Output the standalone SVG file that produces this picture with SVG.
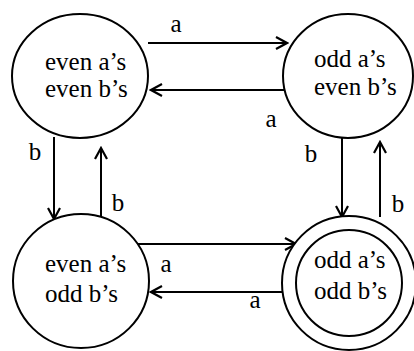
<svg xmlns="http://www.w3.org/2000/svg" width="414" height="351" viewBox="0 0 414 351">
  <style>
    .state { fill: #fff; stroke: #000; stroke-width: 2; }
    .name { font-family: 'Liberation Serif', 'Times New Roman', serif; font-size: 25px; fill: #000; }
    .edge { fill: none; stroke: #000; stroke-width: 2; }
    .lbl { font-family: 'Liberation Serif', 'Times New Roman', serif; font-size: 25px; fill: #000; text-anchor: middle; }
  </style>
  <defs>
    <marker id="arrow" markerUnits="userSpaceOnUse" markerWidth="16" markerHeight="16" viewBox="-14 -8 16 16" refX="0" refY="0" orient="auto">
      <path d="M-11,-6 L0,0 L-11,6" fill="none" stroke="#000" stroke-width="2.2"/>
    </marker>
  </defs>

  <!-- transitions and their input symbols -->
  <g id="connectors">
    <line class="edge" x1="148" y1="43" x2="287" y2="43" marker-end="url(#arrow)"/>
    <line class="edge" x1="284" y1="90" x2="151" y2="90" marker-end="url(#arrow)"/>
    <line class="edge" x1="54" y1="137" x2="54" y2="219" marker-end="url(#arrow)"/>
    <line class="edge" x1="101" y1="227" x2="101" y2="148" marker-end="url(#arrow)"/>
    <line class="edge" x1="342" y1="138" x2="342" y2="217" marker-end="url(#arrow)"/>
    <line class="edge" x1="380" y1="217" x2="380" y2="142" marker-end="url(#arrow)"/>
    <line class="edge" x1="138" y1="244" x2="296" y2="244" marker-end="url(#arrow)"/>
    <line class="edge" x1="282" y1="292" x2="151" y2="292" marker-end="url(#arrow)"/>
    <text class="lbl" x="176" y="32">a</text>
    <text class="lbl" x="271" y="127">a</text>
    <text class="lbl" x="35" y="160">b</text>
    <text class="lbl" x="311" y="162">b</text>
    <text class="lbl" x="118" y="211">b</text>
    <text class="lbl" x="398" y="212">b</text>
    <text class="lbl" x="166" y="272">a</text>
    <text class="lbl" x="255" y="308">a</text>
  </g>

  <!-- states -->
  <g id="even-even">
    <ellipse class="state" cx="80" cy="76" rx="68" ry="62"/>
    <text class="name" x="45" y="70">even a’s</text>
    <text class="name" x="45" y="97">even b’s</text>
  </g>
  <g id="odd-even">
    <ellipse class="state" cx="348" cy="76" rx="65" ry="62"/>
    <text class="name" x="314" y="67">odd a’s</text>
    <text class="name" x="314" y="95">even b’s</text>
  </g>
  <g id="even-odd">
    <ellipse class="state" cx="81" cy="281" rx="68" ry="67"/>
    <text class="name" x="45" y="272">even a’s</text>
    <text class="name" x="45" y="302">odd b’s</text>
  </g>
  <g id="odd-odd">
    <circle class="state" cx="349" cy="283" r="67"/>
    <circle class="state" cx="349" cy="283" r="53"/>
    <text class="name" x="314" y="268">odd a’s</text>
    <text class="name" x="314" y="299">odd b’s</text>
  </g>
</svg>
